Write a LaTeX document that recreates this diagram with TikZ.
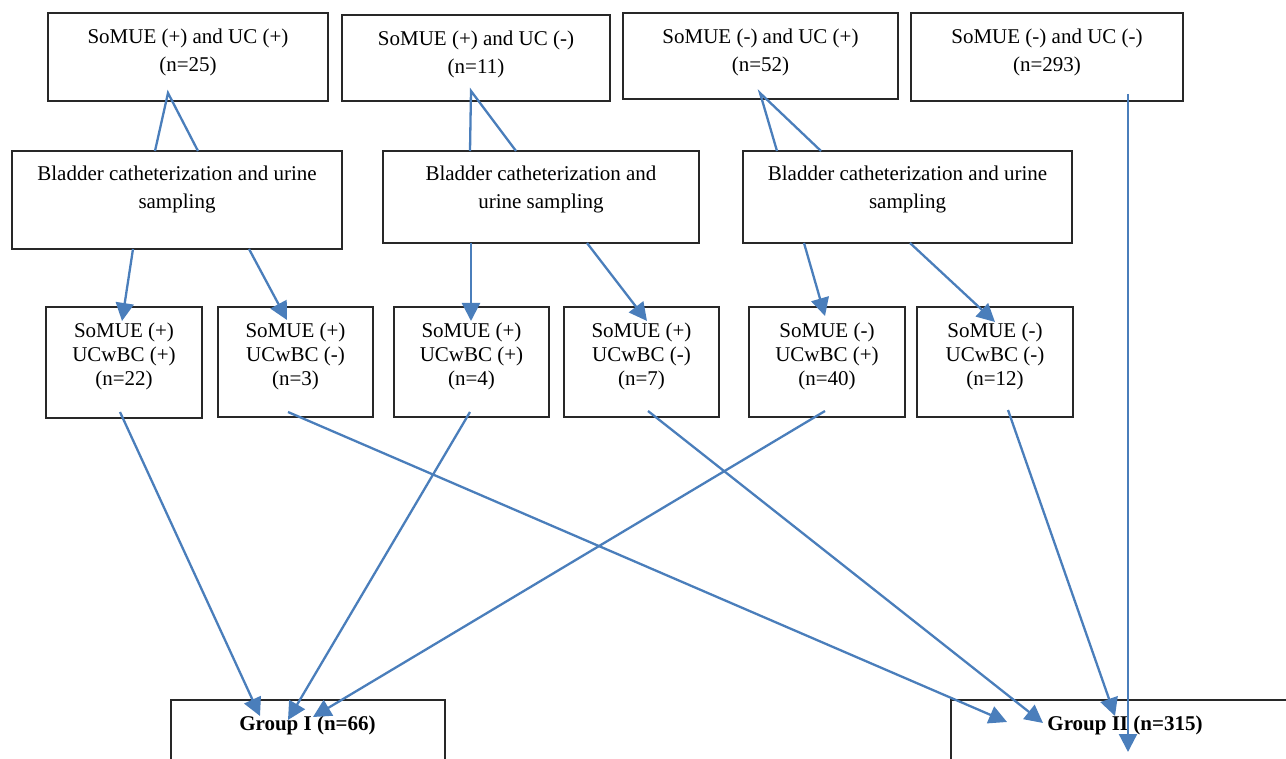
\documentclass[tikz,border=0pt]{standalone}
\usepackage{fontspec}
\setmainfont{Liberation Serif}
\usetikzlibrary{arrows.meta}
\definecolor{arrowblue}{RGB}{74,126,187}
\definecolor{boxline}{RGB}{40,40,40}
\begin{document}
\begin{tikzpicture}[x=1pt,y=-1pt,
  box/.style={draw=boxline, line width=1.1pt, rectangle, inner sep=0pt},
  txt/.style={inner sep=0pt, align=center, anchor=north, font=\fontsize{21}{28}\selectfont},
  txtm/.style={inner sep=0pt, align=center, anchor=north, font=\fontsize{21}{24}\selectfont},
  txtg/.style={inner sep=0pt, anchor=base, font=\fontsize{21}{28}\selectfont\bfseries},
  conn/.style={draw=arrowblue, line width=2.3pt},
  arr/.style={conn, -{Triangle[length=18pt,width=18pt]}}]
\useasboundingbox (0,0) rectangle (1286,759);
\clip (0,0) rectangle (1286,759);

% top row
\node[box, minimum width=280pt, minimum height=88pt] (A) at (188,57) {};
\node[box, minimum width=268pt, minimum height=86pt] (B) at (476,58) {};
\node[box, minimum width=275pt, minimum height=86pt] (C) at (760.5,56) {};
\node[box, minimum width=272pt, minimum height=88pt] (D) at (1047,57) {};
\node[txt] (tA) at (188,23.4) {\strut SoMUE (+) and UC (+)\\\strut (n=25)};
\node[txt] (tB) at (476,25.4) {\strut SoMUE (+) and UC (-)\\\strut (n=11)};
\node[txt] (tC) at (760.5,23.4) {\strut SoMUE (-) and UC (+)\\\strut (n=52)};
\node[txt] (tD) at (1047,23.4) {\strut SoMUE (-) and UC (-)\\\strut (n=293)};

% bladder row
\node[box, minimum width=330pt, minimum height=98pt] (L1) at (177,200) {};
\node[box, minimum width=316pt, minimum height=92pt] (L2) at (541,197) {};
\node[box, minimum width=329pt, minimum height=92pt] (L3) at (907.5,197) {};
\node[txt] (tL1) at (177,160.4) {\strut Bladder catheterization and urine\\\strut sampling};
\node[txt] (tL2) at (541,160.4) {\strut Bladder catheterization and\\\strut urine sampling};
\node[txt] (tL3) at (907.5,160.4) {\strut Bladder catheterization and urine\\\strut sampling};

% middle row
\node[box, minimum width=156pt, minimum height=111pt] (M1) at (124,362.5) {};
\node[box, minimum width=155pt, minimum height=110pt] (M2) at (295.5,362) {};
\node[box, minimum width=155pt, minimum height=110pt] (M3) at (471.5,362) {};
\node[box, minimum width=155pt, minimum height=110pt] (M4) at (641.5,362) {};
\node[box, minimum width=156pt, minimum height=110pt] (M5) at (827,362) {};
\node[box, minimum width=156pt, minimum height=110pt] (M6) at (995,362) {};
\node[txtm] (tM1) at (124,320.2) {\strut SoMUE (+)\\\strut UCwBC (+)\\\strut (n=22)};
\node[txtm] (tM2) at (295.5,320.2) {\strut SoMUE (+)\\\strut UCwBC (-)\\\strut (n=3)};
\node[txtm] (tM3) at (471.5,320.2) {\strut SoMUE (+)\\\strut UCwBC (+)\\\strut (n=4)};
\node[txtm] (tM4) at (641.5,320.2) {\strut SoMUE (+)\\\strut UCwBC (-)\\\strut (n=7)};
\node[txtm] (tM5) at (827,320.2) {\strut SoMUE (-)\\\strut UCwBC (+)\\\strut (n=40)};
\node[txtm] (tM6) at (995,320.2) {\strut SoMUE (-)\\\strut UCwBC (-)\\\strut (n=12)};

% group boxes
\node[box, minimum width=274pt, minimum height=100pt] (G1) at (308,750) {};
\node[box, minimum width=349pt, minimum height=100pt] (G2) at (1125.5,750) {};
\node[txtg] (tG1) at (307.5,730) {Group I (n=66)};
\node[txtg] (tG2) at (1125,730) {Group II (n=315)};

% coordinates for connector ends
\coordinate (aA) at (168,93);   \coordinate (aA1) at (155,151); \coordinate (aA2) at (198,151);
\coordinate (aB) at (471,91);   \coordinate (aB1) at (470,151); \coordinate (aB2) at (516,151);
\coordinate (aC) at (760,93);   \coordinate (aC1) at (777,151); \coordinate (aC2) at (821,151);
\coordinate (aD) at (1128,94);

\coordinate (sL1a) at (133,249); \coordinate (eM1) at (122,321);
\coordinate (sL1b) at (249,249); \coordinate (eM2) at (287,320);
\coordinate (sL2a) at (471,243); \coordinate (eM3) at (471,321);
\coordinate (sL2b) at (587,243); \coordinate (eM4) at (647,321);
\coordinate (sL3a) at (804,243); \coordinate (eM5) at (825,316);
\coordinate (sL3b) at (910,243); \coordinate (eM6) at (995,322);

\coordinate (sM1) at (120,412);  \coordinate (eG1a) at (260,716);
\coordinate (sM3) at (470,412);  \coordinate (eG1b) at (288,720);
\coordinate (sM5) at (825,411);  \coordinate (eG1c) at (313,717);
\coordinate (sM2) at (288,412);  \coordinate (eG2a) at (1007,722);
\coordinate (sM4) at (648,411);  \coordinate (eG2b) at (1043,723);
\coordinate (sM6) at (1008,410); \coordinate (eG2c) at (1115,716);
\coordinate (eG2d) at (1128,752);

% triangle-shaped connectors
\draw[conn, line join=miter] (aA1) -- (aA) -- (aA2);
\draw[conn, line join=miter] (aB1) -- (aB) -- (aB2);
\draw[conn, line join=miter] (aC1) -- (aC) -- (aC2);

% bladder -> middle
\draw[arr] (sL1a) -- (eM1);
\draw[arr] (sL1b) -- (eM2);
\draw[arr] (sL2a) -- (eM3);
\draw[arr] (sL2b) -- (eM4);
\draw[arr] (sL3a) -- (eM5);
\draw[arr] (sL3b) -- (eM6);

% middle -> groups
\draw[arr] (sM1) -- (eG1a);
\draw[arr] (sM3) -- (eG1b);
\draw[arr] (sM5) -- (eG1c);
\draw[arr] (sM2) -- (eG2a);
\draw[arr] (sM4) -- (eG2b);
\draw[arr] (sM6) -- (eG2c);
\draw[arr] (aD) -- (eG2d);
\end{tikzpicture}
\end{document}
